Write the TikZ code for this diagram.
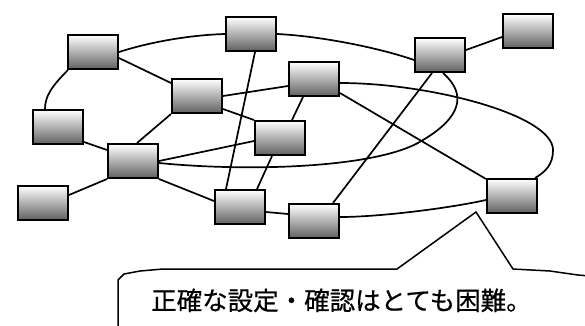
\documentclass[tikz,border=0pt]{standalone}
\usepackage{fontspec}
\newfontfamily\cjk[FakeBold=0.6]{Noto Sans CJK JP}
\begin{document}
\begin{tikzpicture}[x=1pt,y=-1pt,
  dev/.style={draw=black, line width=2.3pt, top color=white, bottom color=black!62,
    minimum width=49.7pt, minimum height=33.7pt, inner sep=0pt},
  link/.style={line width=1.7pt, draw=black},
  callout/.style={line width=1.5pt, draw=black},
  notetext/.style={anchor=base west, inner sep=0pt, font=\cjk\fontsize{25.5pt}{30pt}\selectfont}]
\useasboundingbox (0,0) rectangle (585,325);
\fill[white] (0,0) rectangle (585,325);
% devices
\node[dev] (A) at (93,52) {};
\node[dev] (B) at (251,34) {};
\node[dev] (C) at (58,127) {};
\node[dev] (D) at (197,96) {};
\node[dev] (E) at (280,138) {};
\node[dev] (F) at (314,79) {};
\node[dev] (G) at (440,55) {};
\node[dev] (H) at (528,31) {};
\node[dev] (I) at (133,161) {};
\node[dev] (J) at (43,203) {};
\node[dev] (K) at (240,207) {};
\node[dev] (L) at (314,221) {};
\node[dev] (M) at (512,196) {};
% links
\draw[link] (A.east) .. controls (150,42) and (190,35) .. (B.west);
\draw[link] ([xshift=-25pt]A.south) .. controls (52,86) and (45,96) .. ([xshift=-13pt]C.north);
\draw[link] ([yshift=-6pt]A.east) -- ([yshift=13pt]D.west);
\draw[link] ([yshift=3pt]C.south east) -- ([yshift=-7pt]I.north west);
\draw[link] (D.south west) -- ([xshift=4pt]I.north);
\draw[link] (D.east) -- ([yshift=-7pt]F.west);
\draw[link] ([yshift=-13pt]D.east) -- (E.north west);
\draw[link] ([xshift=4pt]B.south) -- ([xshift=-14pt]K.north);
\draw[link] ([xshift=-11pt]F.south) -- ([xshift=12pt]E.north);
\draw[link] ([xshift=-8pt]E.south) -- ([xshift=17pt]K.north);
\draw[link] (I.east) -- ([yshift=-3pt]E.west);
\draw[link] (I.south east) -- ([yshift=6pt]K.west);
\draw[link] ([yshift=-2pt]I.east) .. controls (250,172) and (380,168) .. (423,140)
  .. controls (460,118) and (468,95) .. ([xshift=3pt]G.south);
\draw[link] ([yshift=-4pt]F.east) .. controls (430,83) and (553,115) .. (553,150)
  .. controls (553,165) and (545,172) .. ([xshift=-3pt]M.north east);
\draw[link] (B.east) .. controls (320,36) and (380,48) .. ([yshift=-5pt]G.west);
\draw[link] ([yshift=5pt]G.east) -- ([yshift=-6pt]H.west);
\draw[link] ([xshift=-8pt]G.south) -- ([xshift=19pt]L.north);
\draw[link] ([yshift=4pt]F.south east) -- ([yshift=-1pt]M.north west);
\draw[link] ([yshift=4pt]L.east) .. controls (380,217) and (450,208) .. ([yshift=-4pt]M.west);
\draw[link] ([yshift=-5pt]K.east) -- ([yshift=7pt]L.west);
\draw[link] (I.south west) -- ([yshift=8pt]J.east);
% callout
\draw[callout] (118,330) -- (118,280) -- (124,274) -- (140,271) -- (163,269) -- (397,269)
  -- (476,212) -- (513,269) -- (550,271) -- (578,275) -- (590,276);
\node[notetext] (note) at (151,310) {正確な設定・確認はとても困難。};
\end{tikzpicture}
\end{document}
